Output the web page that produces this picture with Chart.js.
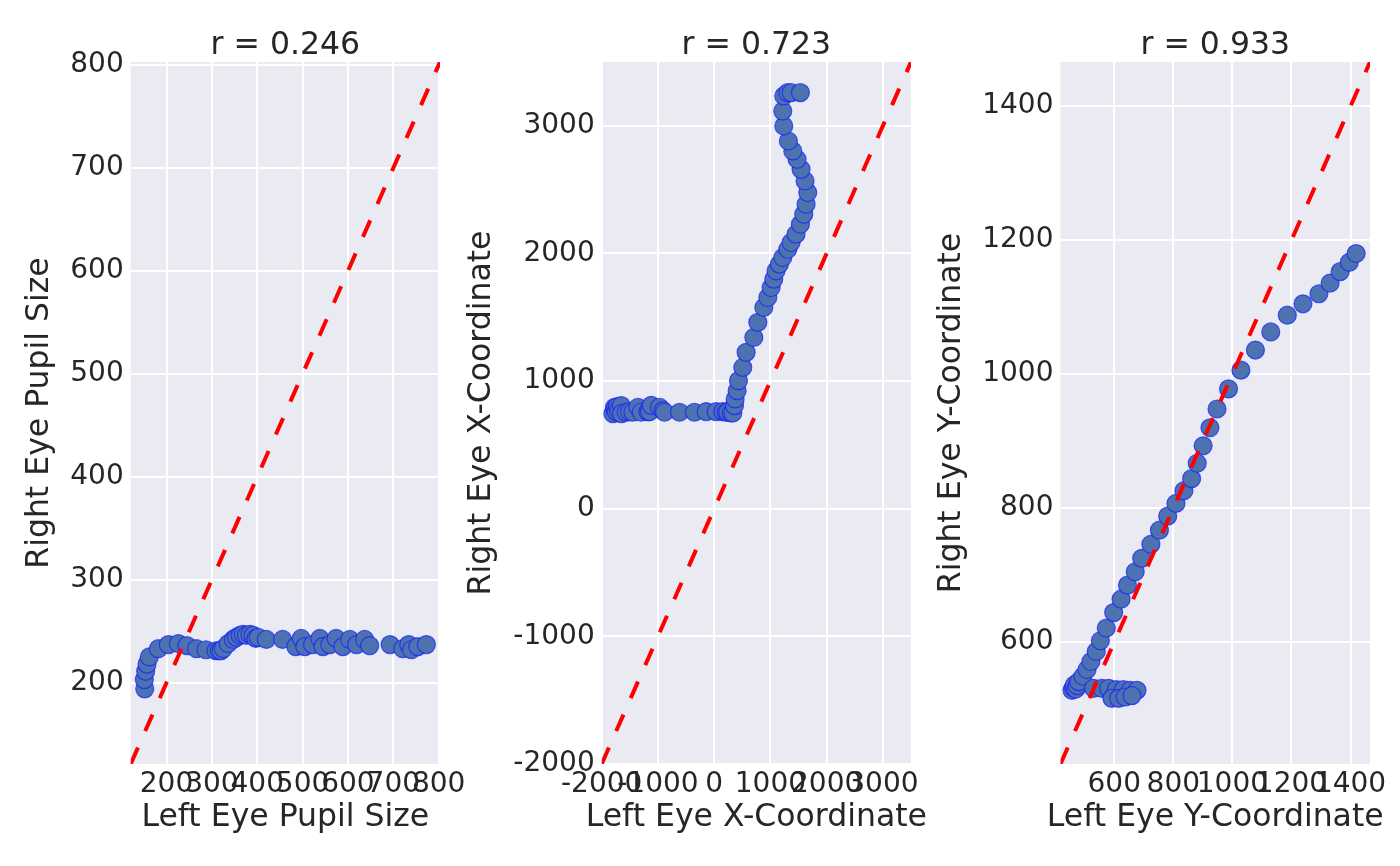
<!DOCTYPE html>
<html><head><meta charset="utf-8">
<script src="https://cdn.jsdelivr.net/npm/chart.js@4.4.0/dist/chart.umd.min.js"></script>
<style>
html,body{margin:0;padding:0;background:#fff;width:1400px;height:866px;overflow:hidden}
canvas{position:absolute;left:0;top:0}
</style></head><body>
<canvas id="c1" width="1400" height="866"></canvas>
<canvas id="c2" width="1400" height="866"></canvas>
<canvas id="c3" width="1400" height="866"></canvas>
<script>
// ---- Data ----
const leftPupil  = [152,151,154,157,162,182,204,226,245,266,287,309,316,320,325,336,347,354,362,369,376,384,391,397,402,420,456,485,497,505,522,538,545,560,574,589,604,619,637,648,693,721,734,740,754,773];
const rightPupil = [194,203,211,218,225,233,237,238,236,233,232,231,231,231,233,238,242,244,246,247,246,247,246,243,244,242,242,235,243,235,237,243,235,237,243,235,242,237,242,236,237,233,237,232,235,237];

const leftX  = [-1800,-1771,-1760,-1741,-1720,-1700,-1652,-1650,-1563,-1504,-1444,-1355,-1297,-1178,-1149,-1119,-971,-911,-883,-616,-350,-142,36,154,213,243,302,332,361,373,409,432,509,568,705,776,883,954,1012,1060,1101,1160,1220,1309,1368,1456,1533,1593,1634,1664,1616,1545,1474,1398,1320,1238,1220,1238,1309,1368,1533];
const rightX = [745,795,780,761,800,770,808,745,756,761,756,795,756,761,761,810,795,769,756,756,756,761,761,761,756,756,750,750,808,860,925,1003,1107,1225,1342,1460,1577,1655,1733,1799,1864,1916,1968,2033,2086,2151,2229,2307,2385,2477,2568,2659,2738,2803,2881,2999,3116,3234,3260,3260,3260];

const leftY  = [457,462,465,470,475,480,494,508,521,539,553,573,598,623,645,671,693,724,753,781,809,836,862,881,901,924,948,987,1029,1078,1130,1186,1239,1293,1331,1365,1396,1419,530,558,581,607,631,654,677,592,615,637,660];
const rightY = [528,532,536,530,535,541,549,559,571,586,602,621,644,664,685,705,725,746,767,788,807,826,844,867,893,920,948,978,1006,1036,1063,1088,1105,1120,1136,1153,1167,1180,531,531,531,529,529,528,528,516,516,518,520];

const pupilTicks = [200,300,400,500,600,700,800];
const pupilTickLabels = ['200','300','400','500','600','700','800'];
const coordXTicks = [-2000,-1000,0,1000,2000,3000];
const coordXTickLabels = ['-2000','-1000','0','1000','2000','3000'];
const coordYTicks = [600,800,1000,1200,1400];
const coordYTickLabels = ['600','800','1000','1200','1400'];

const titles = ['r = 0.246','r = 0.723','r = 0.933'];
const xLabels = ['Left Eye Pupil Size','Left Eye X-Coordinate','Left Eye Y-Coordinate'];
const yLabels = ['Right Eye Pupil Size','Right Eye X-Coordinate','Right Eye Y-Coordinate'];
const limits = [[121,803],[-2000,3500],[418,1466]];

// ---- Style ----
const FONT = 'DejaVu Sans';
const TXT = '#262626';
const LABEL_SIZE = 31.5;
Chart.defaults.font.family = FONT;

const bgPlugin = {
  id:'bg',
  beforeDraw(chart){
    const a = chart.chartArea, c = chart.ctx;
    c.save(); c.fillStyle = '#EAEAF2';
    c.fillRect(a.left, a.top, a.right-a.left, a.bottom-a.top);
    c.restore();
  }
};

// x-axis title drawn without Chart.js' maxWidth squeeze (text wider than the axis)
const xTitlePlugin = {
  id:'xTitle',
  afterDraw(chart, args, opts){
    const a = chart.chartArea, c = chart.ctx;
    c.save();
    c.font = `${opts.size}px "${FONT}"`;
    c.fillStyle = opts.color;
    c.textAlign = 'center';
    c.textBaseline = 'middle';
    c.fillText(opts.text, (a.left + a.right)/2, opts.y);
    c.restore();
  }
};

function makeChart(id, xs, ys, ticks, tickLabels, idx, layout){
  const [lo, hi] = limits[idx];
  const pts = xs.map((x,i)=>({x:x, y:ys[i]}));
  const tickOpts = (pad)=>({
    autoSkip:false, maxRotation:0, minRotation:0, padding:pad, color:TXT,
    font:{family:FONT, size:28, lineHeight:1.2},
    callback:(v,i)=>tickLabels[i]
  });
  return new Chart(document.getElementById(id), {
    type:'scatter',
    data:{datasets:[
      {type:'line', data:[{x:lo,y:lo},{x:hi,y:hi}], borderColor:'#ff0000', borderWidth:4,
       borderDash:[18,18], pointRadius:0, fill:false, order:0, tension:0},
      {data:pts, backgroundColor:'rgb(76,114,176)', borderColor:'rgba(20,30,255,0.7)',
       borderWidth:1.2, pointRadius:9, order:1}
    ]},
    options:{
      responsive:false, animation:false, devicePixelRatio:1,
      layout:{padding:{left:layout.P, right:layout.R, top:0, bottom:0}},
      plugins:{
        legend:{display:false}, tooltip:{enabled:false},
        title:{display:true, text:titles[idx], fullSize:false, color:TXT,
          font:{family:FONT, size:LABEL_SIZE, weight:'normal', lineHeight:1},
          padding:{top:30.3, bottom:0.2}},
        xTitle:{text:xLabels[idx], size:LABEL_SIZE, color:TXT, y:817.6}
      },
      scales:{
        x:{type:'linear', min:lo, max:hi,
          afterBuildTicks:s=>{ s.ticks = ticks.map(v=>({value:v})); },
          afterFit:s=>{ s.height = 102; s.paddingLeft = 0; s.paddingRight = 0; },
          ticks:tickOpts(3.7),
          grid:{color:'#ffffff', lineWidth:2, drawTicks:false},
          border:{display:false},
          title:{display:false}
        },
        y:{type:'linear', min:lo, max:hi,
          afterBuildTicks:s=>{ s.ticks = ticks.map(v=>({value:v})); },
          afterFit:s=>{ s.width = layout.W; s.paddingTop = 0; s.paddingBottom = 0; },
          ticks:tickOpts(7),
          grid:{color:'#ffffff', lineWidth:2, drawTicks:false},
          border:{display:false},
          title:{display:true, text:yLabels[idx], color:TXT,
            font:{family:FONT, size:LABEL_SIZE, lineHeight:1.2}, padding:{top:0, bottom:0}}
        }
      }
    },
    plugins:[bgPlugin, xTitlePlugin]
  });
}

makeChart('c1', leftPupil, rightPupil, pupilTicks, pupilTickLabels, 0, {P:21.1, W:109.6, R:960});
makeChart('c2', leftX, rightX, coordXTicks, coordXTickLabels, 1, {P:462.7, W:139, R:489});
makeChart('c3', leftY, rightY, coordYTicks, coordYTickLabels, 2, {P:932.7, W:127.8, R:30});
</script>
</body></html>
